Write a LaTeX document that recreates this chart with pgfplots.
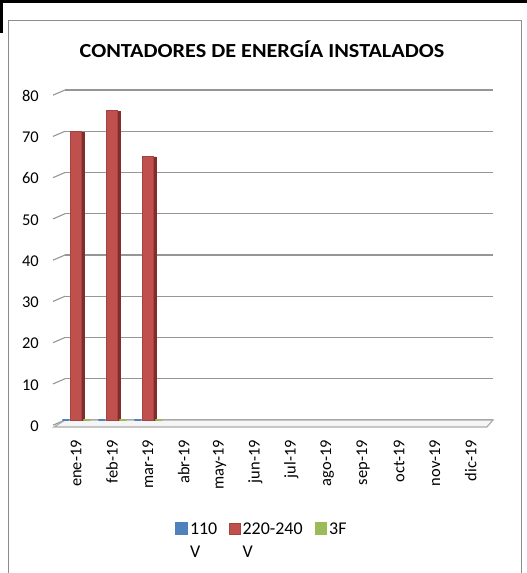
\documentclass[border=0pt]{standalone}
\usepackage{graphicx}
\usepackage{pgfplots}
\pgfplotsset{compat=1.18}
\usepackage{fontspec}
\setmainfont{Carlito}
\definecolor{sblue}{RGB}{79,129,189}
\definecolor{sred}{RGB}{192,80,77}
\definecolor{sreddark}{RGB}{128,45,43}
\definecolor{sgreen}{RGB}{155,187,89}
\definecolor{gridg}{RGB}{150,150,150}
\begin{document}
\begin{tikzpicture}
\useasboundingbox (0bp,0bp) rectangle (527bp,573bp);
% chart frame and sheet lines
\draw[black!45,line width=0.8bp] (8bp,-2bp) -- (8bp,553bp) -- (521bp,553bp) -- (521bp,-2bp);
\fill[black] (0bp,570bp) rectangle (527bp,573bp);
\fill[black] (0bp,540bp) rectangle (3bp,573bp);
\node[font=\bfseries\fontsize{20}{22}\selectfont] at (262bp,524bp) {\scalebox{1.115}[1]{CONTADORES DE ENERGÍA INSTALADOS}};
\begin{axis}[
  at={(65bp,153bp)}, anchor=south west,
  scale only axis, width=428bp, height=330bp,
  xmin=-0.306, xmax=11.62, ymin=0, ymax=80,
  clip=false,
  axis line style={draw=none},
  major tick length=0pt,
  ytick={0,10,...,80},
  ymajorgrids,
  grid style={gridg, line width=1.1bp},
  xtick={0,...,11},
  xticklabels={ene-19,feb-19,mar-19,abr-19,may-19,jun-19,jul-19,ago-19,sep-19,oct-19,nov-19,dic-19},
  tick label style={font=\fontsize{16.5}{18}\selectfont},
  /pgf/number format/assume math mode=true,
  yticklabel style={anchor=east, inner sep=0pt, xshift=-26bp, yshift=-6bp},
  xticklabel style={rotate=90, anchor=east, inner sep=0pt, xshift=-20bp},
  legend style={at={(0.5,0)}, anchor=north, yshift=-94bp, xshift=-17bp, draw=none, fill=none,
    font=\fontsize{18}{23}\selectfont, legend columns=3,
    /tikz/every even column/.append style={column sep=10bp},
    cells={anchor=base west}},
  legend image code/.code={\fill[#1] (0bp,0bp) rectangle (11bp,11bp);},
]
% left diagonal edges of gridlines
\draw[gridg, line width=1.1bp] (axis cs:-0.306,0) -- (axis cs:-0.64,-1.25);
\draw[gridg, line width=1.1bp] (axis cs:-0.306,10) -- (axis cs:-0.64,8.75);
\draw[gridg, line width=1.1bp] (axis cs:-0.306,20) -- (axis cs:-0.64,18.75);
\draw[gridg, line width=1.1bp] (axis cs:-0.306,30) -- (axis cs:-0.64,28.75);
\draw[gridg, line width=1.1bp] (axis cs:-0.306,40) -- (axis cs:-0.64,38.75);
\draw[gridg, line width=1.1bp] (axis cs:-0.306,50) -- (axis cs:-0.64,48.75);
\draw[gridg, line width=1.1bp] (axis cs:-0.306,60) -- (axis cs:-0.64,58.75);
\draw[gridg, line width=1.1bp] (axis cs:-0.306,70) -- (axis cs:-0.64,68.75);
\draw[gridg, line width=1.1bp] (axis cs:-0.306,80) -- (axis cs:-0.64,78.75);
% floor
\draw[gridg!80, line width=1.2bp, fill=gray!8] (axis cs:-0.306,0) -- (axis cs:11.62,0) -- (axis cs:11.45,-1.7) -- (axis cs:-0.61,-1.7) -- cycle;
\addplot[ybar, bar width=7bp, bar shift=-10bp, fill=sblue, draw=sblue, line width=1.6bp]
  coordinates {(0,0) (1,0) (2,0)};
\addlegendentry{\begin{tabular}[t]{@{}l@{}}110\\V\end{tabular}}
\addplot[ybar, bar width=3bp, bar shift=7.2bp, fill=sreddark, draw=sreddark, forget plot]
  coordinates {(0,69.8) (1,74.8) (2,63.8)};
\addplot[ybar, bar width=11bp, bar shift=0bp, fill=sred, draw=sred!85!black, line width=0.3bp]
  coordinates {(0,70) (1,75) (2,64)};
\addlegendentry{\begin{tabular}[t]{@{}l@{}}220-240\\V\end{tabular}}
\addplot[ybar, bar width=7bp, bar shift=11bp, fill=sgreen, draw=sgreen, line width=1.6bp]
  coordinates {(0,0) (1,0) (2,0)};
\addlegendentry{3F}
\end{axis}
\end{tikzpicture}
\end{document}
